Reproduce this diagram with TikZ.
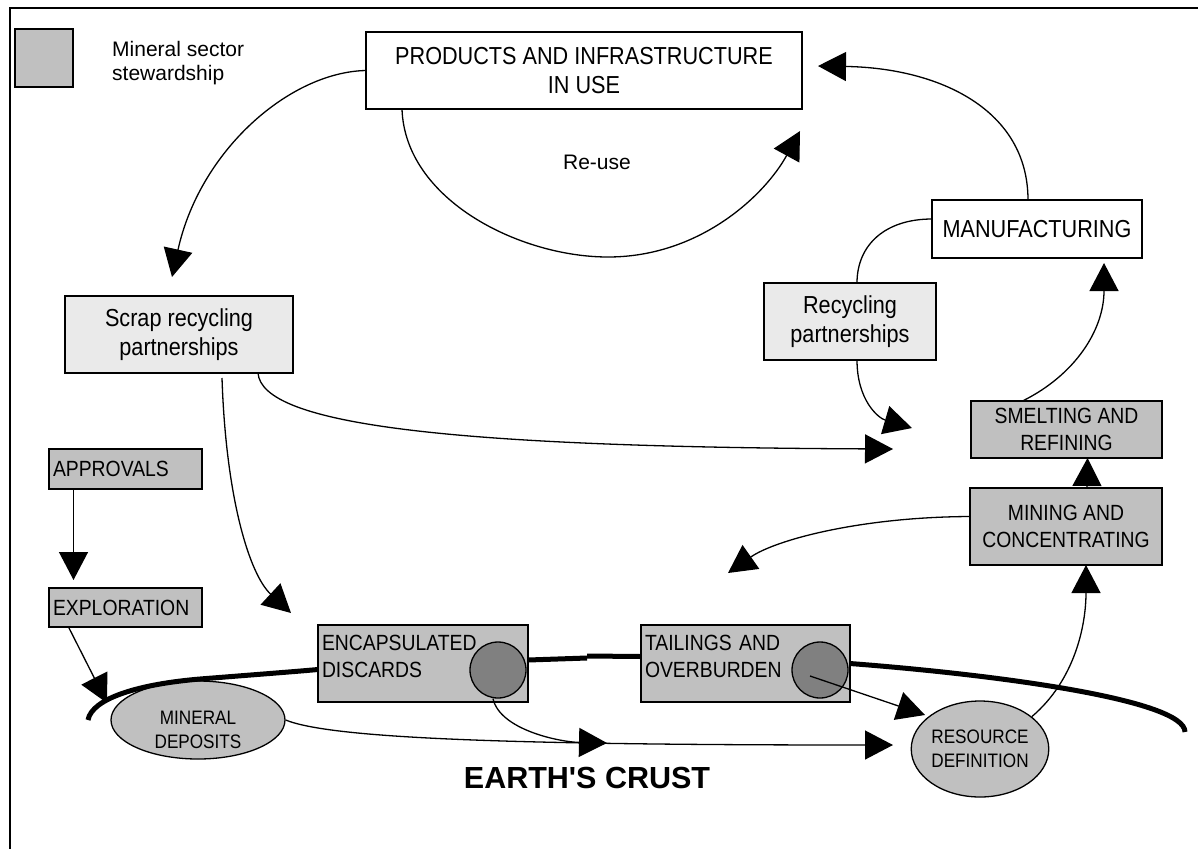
\documentclass[tikz,border=0pt]{standalone}
\usepackage{fontspec}
\setmainfont{Liberation Sans}
\newfontfamily\narrowfont{Liberation Sans}[FakeStretch=0.88]
\usetikzlibrary{arrows.meta,shapes.geometric,positioning}
\definecolor{stewgray}{HTML}{C0C0C0}
\definecolor{partgray}{HTML}{EAEAEA}
\definecolor{holegray}{HTML}{808080}

\begin{document}
\begin{tikzpicture}[x=1pt,y=-1pt,
    box/.style={draw, line width=1.3pt, inner sep=0pt, outer sep=0pt, align=center},
    stew/.style={box, fill=stewgray},
    part/.style={box, fill=partgray},
    lbox/.style={stew, align=left, inner xsep=4pt},
    blob/.style={draw, line width=1.3pt, fill=stewgray, ellipse, inner sep=0pt, align=center},
    hole/.style={draw, line width=1.3pt, fill=holegray, circle, inner sep=0pt, minimum size=56pt},
    arr/.style={line width=1.3pt, -{Triangle[length=28pt,width=29pt]}},
    link/.style={line width=1.3pt},
    crust/.style={line width=5pt},
    bigtxt/.style={font=\narrowfont\fontsize{24.6pt}{29pt}\selectfont},
    midtxt/.style={font=\narrowfont\fontsize{22pt}{26.5pt}\selectfont},
    smalltxt/.style={font=\narrowfont\fontsize{19.5pt}{24pt}\selectfont}]
      \useasboundingbox (0,0) rectangle (1198,849);
      \draw[line width=1.3pt] (1198,8) -- (10,8) -- (10,849);
      \node[stew, minimum width=58pt, minimum height=58pt] (key) at (44,58) {};
      \node[anchor=north west, align=left, inner sep=0pt, font=\fontsize{21pt}{24pt}\selectfont] (keytxt) at (112,41) {Mineral sector\\stewardship};
      \node[box, bigtxt, minimum width=436pt, minimum height=77pt] (prod) at (584,70.5) {PRODUCTS AND INFRASTRUCTURE\\IN USE};
      \node[box, bigtxt, minimum width=210pt, minimum height=58pt] (manu) at (1037,229) {MANUFACTURING};
      \node[part, bigtxt, minimum width=172pt, minimum height=77pt] (recyc) at (850,321.5) {Recycling\\partnerships};
      \node[part, bigtxt, minimum width=228pt, minimum height=77pt] (scrap) at (179,334.5) {Scrap recycling\\partnerships};
      \node[stew, midtxt, minimum width=191pt, minimum height=57pt] (smelt) at (1066.5,429.5) {SMELTING AND\\REFINING};
      \node[stew, midtxt, minimum width=192pt, minimum height=77pt] (mine) at (1066,526.5) {MINING AND\\CONCENTRATING};
      \node[lbox, midtxt, text width=145pt, minimum height=40pt] (appr) at (125.5,469) {APPROVALS};
      \node[lbox, midtxt, text width=145pt, minimum height=39pt] (expl) at (125.5,607.5) {EXPLORATION};
      \node[lbox, midtxt, text width=202pt, minimum height=77pt] (encap) at (423,663.5) {ENCAPSULATED\\DISCARDS\rule[-14pt]{0pt}{14pt}};
      \node[lbox, midtxt, text width=201pt, minimum height=77pt] (tail) at (745.5,663.5) {TAILINGS AND\\OVERBURDEN\rule[-14pt]{0pt}{14pt}};
      \node[hole] (encapdot) at (498,670) {};
      \node[hole] (taildot) at (820,670) {};
      \node[blob, minimum width=174pt, minimum height=78pt, label={[smalltxt, align=center, yshift=-10pt]center:MINERAL\\DEPOSITS}] (mindep) at (198,720) {};
      \node[blob, smalltxt, minimum width=134pt, minimum height=96pt] (resdef) at (980,749) {RESOURCE\\DEFINITION};
      \node[font=\fontsize{21pt}{24pt}\selectfont] (reuse) at (597,162) {Re-use};
      \node[font=\bfseries\fontsize{30.5pt}{34pt}\selectfont] (crusttxt) at (587,778) {EARTH\textquotesingle S CRUST};
      \coordinate (scrapin) at (172,277);
      \coordinate (reuselow) at (608,257);
      \coordinate (reusein) at (800,131);
      \coordinate (prodin) at (818,66);
      \coordinate (recycout) at (912,428);
      \coordinate (scrapout) at (893,449);
      \coordinate (encapin) at (291,613);
      \coordinate (manuin) at (1104,263);
      \coordinate (mineout) at (728,573);
      \coordinate (depin) at (107,703);
      \coordinate (resin) at (893,745);
      \coordinate (crustin) at (607,743);
      \coordinate (tailout) at (925,715);
      \coordinate (crustleft) at (88,720);
      \coordinate (crustmid) at (587,658);
      \coordinate (crustright) at (1185,732);
      \draw[arr] (prod.west) .. controls (290,72) and (200,150) .. (scrapin);
      \draw[arr] ([xshift=-182pt]prod.south) .. controls (405,200) and (520,257) .. (reuselow) .. controls (700,257) and (765,195) .. (reusein);
      \draw[arr] ([xshift=-9pt]manu.north) .. controls (1028,110) and (940,68) .. (prodin);
      \draw[link] ([yshift=10pt]manu.west) .. controls (885,219) and (857,245) .. ([xshift=7pt]recyc.north);
      \draw[arr] ([xshift=7pt]recyc.south) .. controls (857,400) and (878,418) .. (recycout);
      \draw[arr] ([xshift=79pt]scrap.south) .. controls (262,425) and (450,447) .. (scrapout);
      \draw[arr] ([xshift=43pt,yshift=-5pt]scrap.south) .. controls (226,500) and (250,575) .. (encapin);
      \draw[arr] ([xshift=-44pt]smelt.north) .. controls (1075,375) and (1104,330) .. (manuin);
      \draw[arr] ([xshift=21pt]mine.north) -- ([xshift=21pt]smelt.south);
      \draw[arr] ([yshift=10pt]mine.west) .. controls (860,517) and (775,540) .. (mineout);
      \draw[arr] (resdef.32) .. controls (1075,680) and (1086,625) .. ([xshift=20pt]mine.south);
      \draw[arr] ([xshift=-52pt]appr.south) -- ([xshift=-52pt,yshift=8pt]expl.north);
      \draw[arr] ([xshift=-57pt]expl.south) -- (depin);
      \draw[arr] (mindep.east) .. controls (330,738) and (500,745) .. (resin);
      \draw[arr] ([xshift=-5pt]encapdot.south) .. controls (500,730) and (560,742) .. (crustin);
      \draw[arr] ([xshift=-10pt,yshift=-6pt]taildot.center) -- (tailout);
      \draw[crust] (crustleft) .. controls (92,698) and (140,684) .. (200,679) .. controls (250,675) and (290,672) .. ([yshift=-6pt]encap.west);
      \draw[crust] ([yshift=3.5pt]encap.east) -- (crustmid);
      \draw[crust] ([yshift=2pt]crustmid) -- ([yshift=7pt]tail.west);
      \draw[crust] (tail.east) .. controls (1000,675) and (1185,700) .. (crustright);
\end{tikzpicture}
\end{document}
